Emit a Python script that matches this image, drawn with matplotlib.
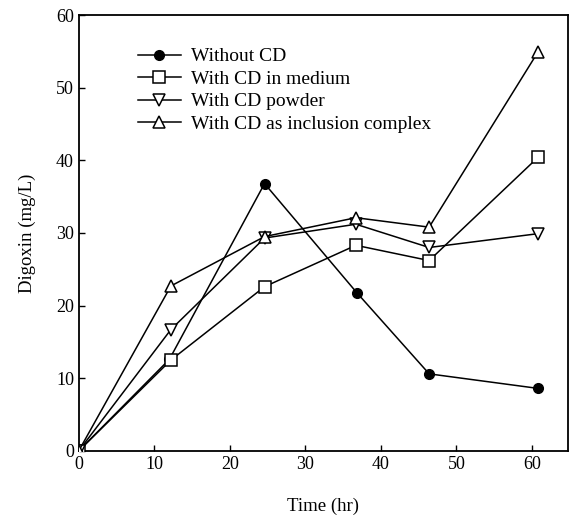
import matplotlib
matplotlib.use("Agg")
import matplotlib.pyplot as plt

plt.rcParams['font.family'] = ['Liberation Serif', 'DejaVu Serif']

time_without = [0, 12, 24.6, 36.8, 46.4, 60.8]
without_cd = [0, 12.6, 36.8, 21.8, 10.6, 8.6]

time_cd = [0, 12.2, 24.6, 36.7, 46.4, 60.8]
cd_medium = [0, 12.5, 22.6, 28.3, 26.2, 40.4]
cd_powder = [0, 16.7, 29.3, 31.2, 28.0, 29.9]
cd_inclusion = [0, 22.7, 29.5, 32.1, 30.8, 54.9]

labels = ["Without CD", "With CD in medium", "With CD powder",
          "With CD as inclusion complex"]
xticks = [0, 10, 20, 30, 40, 50, 60]
yticks = [0, 10, 20, 30, 40, 50, 60]

fig = plt.figure(figsize=(5.75, 5.2), dpi=100)
ax = fig.add_axes([0.137, 0.133, 0.851, 0.838])

lw = 1.1
ax.plot(time_without, without_cd, color='black', lw=lw, marker='o', ms=7,
        mfc='black', mec='black', label=labels[0], zorder=2)
ax.plot(time_cd, cd_medium, color='black', lw=lw, marker='s', ms=8.5,
        mfc='white', mec='black', mew=1.1, label=labels[1], zorder=3)
ax.plot(time_cd, cd_powder, color='black', lw=lw, marker='v', ms=9,
        mfc='white', mec='black', mew=1.1, label=labels[2], zorder=3)
ax.plot(time_cd, cd_inclusion, color='black', lw=lw, marker='^', ms=9,
        mfc='white', mec='black', mew=1.1, label=labels[3], zorder=3)

ax.set_xlim(0, 64.8)
ax.set_ylim(0, 60)
ax.set_xticks(xticks)
ax.set_yticks(yticks)
ax.tick_params(direction='in', length=4, width=1, labelsize=13)
for s in ax.spines.values():
    s.set_linewidth(1.3)

ax.set_xlabel("Time (hr)", fontsize=13.5, labelpad=18)
ax.set_ylabel("Digoxin (mg/L)", fontsize=13.5, labelpad=14)

ax.legend(loc='upper left', bbox_to_anchor=(0.085, 0.965), frameon=False,
          fontsize=14, handlelength=2.2, labelspacing=0.25, handletextpad=0.55)

fig.savefig("out.png", dpi=100)
